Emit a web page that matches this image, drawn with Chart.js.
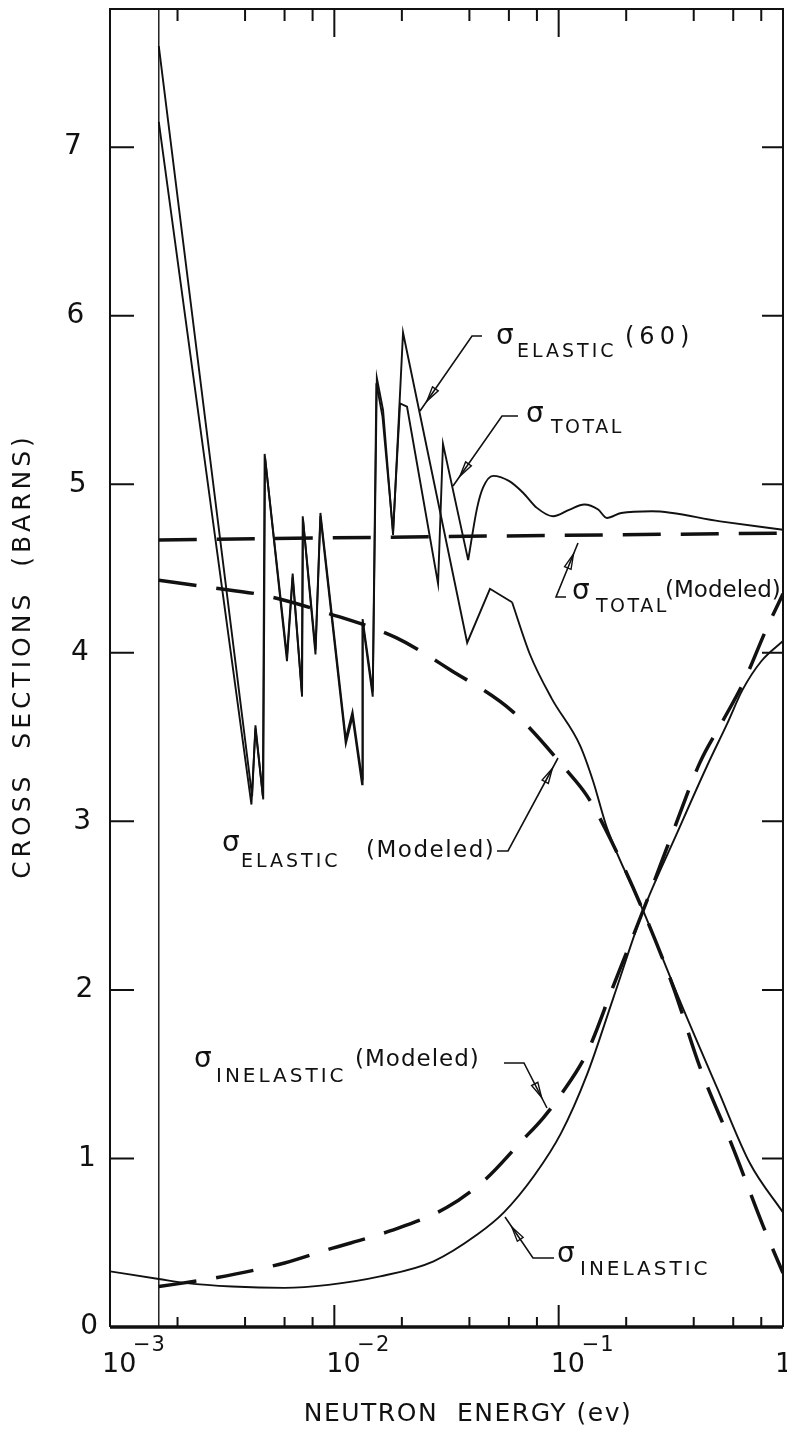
<!DOCTYPE html>
<html>
<head>
<meta charset="utf-8">
<script src="https://cdn.jsdelivr.net/npm/chart.js@4.4.0/dist/chart.umd.min.js"></script>
<style>
    html, body { margin: 0; padding: 0; background: #ffffff; }
    #wrap { position: relative; width: 787px; height: 1438px; }
</style>
</head>
<body>
<div id="wrap"><canvas id="crossSectionChart"></canvas></div>
<script>
// Axis ranges (neutron energy in eV, cross section in barns)
const energyRange = [1e-3, 1];
const sigmaRange = [0, 7.82];

// Tick positions and labels
const energyDecades = [1e-3, 1e-2, 1e-1, 1];
const energyExponents = ['\u22123', '\u22122', '\u22121', '0'];
const energyMinorTicks = [2e-3, 4e-3, 6e-3, 8e-3, 2e-2, 4e-2, 6e-2, 8e-2, 2e-1, 4e-1, 6e-1, 8e-1];
const sigmaTicks = [0, 1, 2, 3, 4, 5, 6, 7];

// Lower energy limit of the measured data (thin vertical line)
const dataStartEnergy = 1.65e-3;

// sigma TOTAL, measured: resonance part and smooth part  [eV, barns]
const totalResonance = [
    [1.65e-3, 7.60], [4.30e-3, 3.15], [4.45e-3, 3.57], [4.80e-3, 3.15], [4.89e-3, 5.18],
    [6.15e-3, 3.98], [6.52e-3, 4.47], [7.16e-3, 3.77], [7.23e-3, 4.81], [8.24e-3, 4.02],
    [8.67e-3, 4.83], [1.125e-2, 3.49], [1.205e-2, 3.65], [1.329e-2, 3.25], [1.337e-2, 4.20],
    [1.483e-2, 3.77], [1.54e-2, 5.60], [1.64e-2, 5.40], [1.827e-2, 4.72], [1.963e-2, 5.48],
    [2.109e-2, 5.46], [2.90e-2, 4.41], [3.05e-2, 5.24], [3.95e-2, 4.55]
];
const totalSmooth = [
    [3.95e-2, 4.55], [4.33e-2, 4.86], [4.6e-2, 4.98], [5.1e-2, 5.05], [6.0e-2, 5.02],
    [6.94e-2, 4.95], [8.0e-2, 4.86], [9.44e-2, 4.81], [0.112, 4.85], [0.13, 4.88],
    [0.150, 4.85], [0.164, 4.80], [0.19, 4.83], [0.26, 4.84], [0.525, 4.78], [1.0, 4.73]
];

// sigma ELASTIC (60), measured
const elasticResonance = [
    [1.65e-3, 7.15], [4.27e-3, 3.10], [4.45e-3, 3.55], [4.82e-3, 3.13], [4.91e-3, 5.16],
    [6.15e-3, 3.95], [6.52e-3, 4.45], [7.18e-3, 3.74], [7.25e-3, 4.79], [8.24e-3, 3.99],
    [8.67e-3, 4.81], [1.125e-2, 3.46], [1.205e-2, 3.62], [1.329e-2, 3.22], [1.337e-2, 4.18],
    [1.483e-2, 3.74], [1.547e-2, 5.63], [1.649e-2, 5.44], [1.827e-2, 4.70], [2.024e-2, 5.90],
    [3.91e-2, 4.06], [4.94e-2, 4.38], [6.2e-2, 4.30]
];
const elasticSmooth = [
    [6.2e-2, 4.30], [7.45e-2, 3.99], [9.3e-2, 3.73], [0.1246, 3.45], [0.1423, 3.24],
    [0.1643, 2.96], [0.238, 2.47], [0.3585, 1.89], [0.508, 1.42], [0.713, 0.97], [1.0, 0.68]
];

// sigma INELASTIC, measured
const inelastic = [
    [1.0e-3, 0.33], [1.65e-3, 0.285], [2.2e-3, 0.26], [3.5e-3, 0.24], [6.0e-3, 0.232],
    [9.4e-3, 0.25], [1.6e-2, 0.30], [2.77e-2, 0.39], [4.35e-2, 0.55], [5.7e-2, 0.68],
    [7.8e-2, 0.90], [0.1025, 1.15], [0.134, 1.50], [0.175, 1.95], [0.238, 2.47],
    [0.337, 2.93], [0.459, 3.33], [0.564, 3.58], [0.66, 3.78], [0.80, 3.95], [1.0, 4.07]
];

// Modeled cross sections (dashed)
const totalModeled = [[1.65e-3, 4.67], [3.0e-2, 4.69], [1.0, 4.71]];
const elasticModeled = [
    [1.65e-3, 4.43], [2.73e-3, 4.39], [4.91e-3, 4.34], [9.63e-3, 4.23], [1.884e-2, 4.09],
    [3.28e-2, 3.90], [6.26e-2, 3.65], [0.109, 3.30], [0.134, 3.15], [0.1694, 2.90],
    [0.2378, 2.47], [0.3236, 2.02], [0.4267, 1.54], [0.5998, 1.06], [0.815, 0.60], [1.0, 0.32]
];
const inelasticModeled = [
    [1.65e-3, 0.24], [2.91e-3, 0.29], [6.0e-3, 0.38], [9.37e-3, 0.46], [1.772e-2, 0.57],
    [3.18e-2, 0.71], [4.75e-2, 0.88], [6.80e-2, 1.10], [8.52e-2, 1.24], [0.1025, 1.38],
    [0.134, 1.63], [0.1748, 2.02], [0.2378, 2.47], [0.3236, 2.94], [0.4267, 3.35],
    [0.541, 3.60], [0.664, 3.82], [0.849, 4.15], [1.0, 4.35]
];

const INK = '#111111';
const FONT = '"DejaVu Sans", "Liberation Sans", sans-serif';
const DASH = [38, 20];

const toPoints = rows => rows.map(([e, s]) => ({ x: e, y: s }));

function lineSet(rows, opts) {
    return Object.assign({
        data: toPoints(rows),
        borderColor: INK,
        borderWidth: 1.9,
        pointRadius: 0,
        fill: false,
        tension: 0
    }, opts);
}

/**
 * Draw a text piece with optional letter spacing
 */
function drawText(ctx, str, x, y, size, spacing) {
    ctx.font = `${size}px ${FONT}`;
    ctx.letterSpacing = (spacing || 0) + 'px';
    ctx.fillText(str, x, y);
}

/**
 * Leader line from a label to a curve, with a small open arrowhead near the tip
 */
function drawLeader(ctx, pts) {
    ctx.lineWidth = 1.6;
    ctx.beginPath();
    ctx.moveTo(pts[0][0], pts[0][1]);
    for (let i = 1; i < pts.length; i++) ctx.lineTo(pts[i][0], pts[i][1]);
    ctx.stroke();

    const [sx, sy] = pts[pts.length - 2];
    const [tx, ty] = pts[pts.length - 1];
    const len = Math.hypot(tx - sx, ty - sy);
    const ux = (tx - sx) / len, uy = (ty - sy) / len;
    const px = -uy, py = ux;
    const tipX = tx - ux * 12, tipY = ty - uy * 12;
    const baseX = tipX - ux * 15, baseY = tipY - uy * 15;
    ctx.beginPath();
    ctx.moveTo(tipX, tipY);
    ctx.lineTo(baseX + px * 3.5, baseY + py * 3.5);
    ctx.lineTo(baseX - px * 3.5, baseY - py * 3.5);
    ctx.closePath();
    ctx.lineWidth = 1.4;
    ctx.stroke();
}

const frameAndLabels = {
    id: 'frameAndLabels',
    afterDraw(chart) {
        const { ctx, chartArea: a, scales: { x, y } } = chart;
        ctx.save();
        ctx.strokeStyle = INK;
        ctx.fillStyle = INK;

        // Frame
        ctx.lineWidth = 2;
        ctx.beginPath();
        ctx.moveTo(a.left, a.bottom);
        ctx.lineTo(a.left, a.top);
        ctx.lineTo(a.right, a.top);
        ctx.lineTo(a.right, a.bottom);
        ctx.stroke();
        ctx.lineWidth = 3.5;
        ctx.beginPath();
        ctx.moveTo(a.left, a.bottom);
        ctx.lineTo(a.right, a.bottom);
        ctx.stroke();

        // Energy ticks, pointing inward on bottom and top
        ctx.lineWidth = 2;
        const tick = (v, lenBottom, lenTop) => {
            const px = x.getPixelForValue(v);
            ctx.beginPath();
            ctx.moveTo(px, a.bottom);
            ctx.lineTo(px, a.bottom - lenBottom);
            ctx.moveTo(px, a.top);
            ctx.lineTo(px, a.top + lenTop);
            ctx.stroke();
        };
        energyMinorTicks.forEach(v => tick(v, 10, 12));
        energyDecades.slice(1, -1).forEach(v => tick(v, 22, 28));

        // Sigma ticks, inward on left and right
        sigmaTicks.slice(1).forEach(v => {
            const py = y.getPixelForValue(v);
            ctx.beginPath();
            ctx.moveTo(a.left, py);
            ctx.lineTo(a.left + 24, py);
            ctx.moveTo(a.right, py);
            ctx.lineTo(a.right - 21, py);
            ctx.stroke();
        });

        // Sigma tick labels
        ctx.textAlign = 'right';
        ctx.textBaseline = 'middle';
        sigmaTicks.forEach(v => {
            drawText(ctx, String(v), 98 - v * 2.3, y.getPixelForValue(v), 28, 0);
        });

        // Energy tick labels 10^n
        ctx.textAlign = 'left';
        ctx.textBaseline = 'alphabetic';
        energyDecades.forEach((v, i) => {
            const px = x.getPixelForValue(v) - 8;
            drawText(ctx, '10', px, a.bottom + 45, 27, 0);
            drawText(ctx, energyExponents[i], px + 31, a.bottom + 24, 21, 1);
        });

        // Axis titles
        ctx.textAlign = 'center';
        drawText(ctx, 'NEUTRON  ENERGY (ev)', 468, 1421, 25, 1.5);
        ctx.save();
        ctx.translate(30, 656);
        ctx.rotate(-Math.PI / 2);
        drawText(ctx, 'CROSS  SECTIONS  (BARNS)', 0, 0, 25, 4);
        ctx.restore();

        // Curve labels
        ctx.textAlign = 'left';
        drawText(ctx, 'σ', 496, 344, 28, 0);
        drawText(ctx, 'ELASTIC', 517, 357, 19, 3);
        drawText(ctx, '(60)', 625, 344, 24, 5);

        drawText(ctx, 'σ', 526, 422, 28, 0);
        drawText(ctx, 'TOTAL', 551, 433, 19, 2.5);

        drawText(ctx, 'σ', 572, 599, 28, 0);
        drawText(ctx, 'TOTAL', 596, 612, 19, 2.5);
        drawText(ctx, '(Modeled)', 665, 597, 23, 0);

        drawText(ctx, 'σ', 222, 851, 28, 0);
        drawText(ctx, 'ELASTIC', 241, 867, 19, 3);
        drawText(ctx, '(Modeled)', 366, 857, 23, 1.5);

        drawText(ctx, 'σ', 194, 1067, 28, 0);
        drawText(ctx, 'INELASTIC', 216, 1082, 20, 3);
        drawText(ctx, '(Modeled)', 355, 1066, 23, 1);

        drawText(ctx, 'σ', 557, 1262, 28, 0);
        drawText(ctx, 'INELASTIC', 580, 1275, 20, 3);

        // Leaders
        drawLeader(ctx, [[482, 336], [472, 336], [420, 411]]);
        drawLeader(ctx, [[518, 416], [502, 416], [453, 486]]);
        drawLeader(ctx, [[566, 597], [556, 597], [578, 543]]);
        drawLeader(ctx, [[497, 851], [508, 851], [558, 758]]);
        drawLeader(ctx, [[504, 1063], [524, 1063], [547, 1108]]);
        drawLeader(ctx, [[554, 1258], [533, 1258], [505, 1217]]);

        ctx.restore();
    }
};

const chart = new Chart(document.getElementById('crossSectionChart'), {
    type: 'line',
    data: {
        datasets: [
            lineSet([[dataStartEnergy, sigmaRange[0]], [dataStartEnergy, sigmaRange[1]]], { label: 'limit', borderWidth: 1.4 }),
            lineSet(totalModeled, { label: 'σ total (modeled)', borderWidth: 3.5, borderDash: DASH }),
            lineSet(elasticModeled, { label: 'σ elastic (modeled)', borderWidth: 3.5, borderDash: DASH, cubicInterpolationMode: 'monotone' }),
            lineSet(inelasticModeled, { label: 'σ inelastic (modeled)', borderWidth: 3.5, borderDash: DASH, cubicInterpolationMode: 'monotone' }),
            lineSet(totalResonance, { label: 'σ total' }),
            lineSet(totalSmooth, { label: 'σ total', cubicInterpolationMode: 'monotone' }),
            lineSet(elasticResonance, { label: 'σ elastic (60)' }),
            lineSet(elasticSmooth, { label: 'σ elastic (60)', cubicInterpolationMode: 'monotone' }),
            lineSet(inelastic, { label: 'σ inelastic', cubicInterpolationMode: 'monotone' })
        ]
    },
    options: {
        responsive: true,
        maintainAspectRatio: false,
        animation: false,
        devicePixelRatio: 1,
        layout: { padding: { left: 110, right: 4, top: 9, bottom: 111 } },
        plugins: { legend: { display: false }, tooltip: { enabled: false } },
        scales: {
            x: { type: 'logarithmic', min: energyRange[0], max: energyRange[1], display: false },
            y: { type: 'linear', min: sigmaRange[0], max: sigmaRange[1], display: false }
        }
    },
    plugins: [frameAndLabels]
});
</script>
</body>
</html>
